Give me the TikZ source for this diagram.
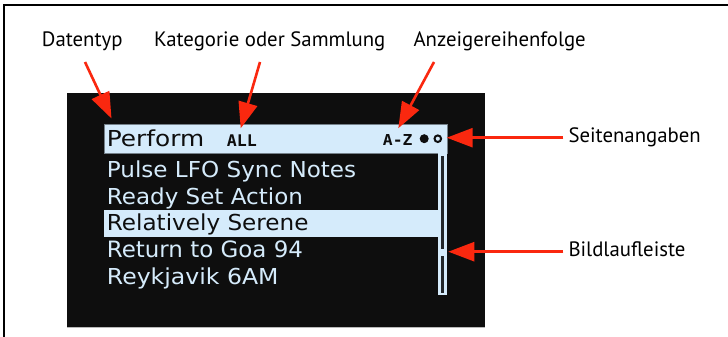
\documentclass[tikz,border=0pt]{standalone}
\usepackage{fontspec}
\setmainfont{PT Sans}
\newfontfamily\pixfont{DejaVu Sans}
\newfontfamily\pixmono{DejaVu Sans Mono}
\usetikzlibrary{arrows.meta}
\definecolor{scrbg}{RGB}{14,14,14}
\definecolor{scrfg}{RGB}{213,235,251}
\definecolor{scrtrack}{RGB}{34,38,42}
\definecolor{annred}{RGB}{250,40,15}
\newcommand{\pixtext}[3]{\resizebox{#1pt}{#2pt}{\pixfont #3}}
\newcommand{\pixbold}[3]{\resizebox{#1pt}{#2pt}{\pixmono\bfseries #3}}
\tikzset{
  annot/.style={font=\fontsize{20.8}{24}\selectfont, text=black, inner sep=0pt, anchor=base west},
  pointer/.style={draw=annred, line width=2.6pt, -{Triangle[length=26pt,width=19pt]}},
  rowtext/.style={inner sep=0pt, anchor=base west, text=scrfg},
  seltext/.style={inner sep=0pt, anchor=base west, text=scrbg},
}
\begin{document}
\begin{tikzpicture}[x=1pt,y=-1pt]
\useasboundingbox (0,0) rectangle (728,337);
\fill[white] (0,0) rectangle (728,337);
\draw[line width=2pt] (4,337) -- (4,5.5) -- (728,5.5);
% screen
\fill[scrbg] (67,93) rectangle (485,327);
\draw[gray!55, line width=1.2pt] (67,327.6) -- (485,327.6);
% header bar
\fill[scrfg, draw=scrfg!55!black, line width=0.7pt] (104,124) rectangle (447,153);
% scrollbar
\fill[scrfg] (438.3,153) rectangle (447,295.3);
\fill[scrtrack] (440.7,156) rectangle (444.4,249.3);
\fill[scrtrack] (440.7,256) rectangle (444.4,292.7);
% highlighted row
\fill[scrfg] (104,210.3) rectangle (438.3,237.3);
% header texts
\node[seltext] (perform) at (106.7,146) {\pixtext{97.3}{16.7}{Perform}};
\node[seltext] (all) at (226.7,146) {\pixbold{30}{11.7}{ALL}};
\node[seltext] (az) at (382.7,145) {\pixbold{29.6}{11}{A-Z}};
\fill[scrbg] (424.2,138.7) circle[radius=4.5];
\draw[scrbg, line width=2pt] (437.8,138.7) circle[radius=3.3];
\coordinate (pages) at (446.7,137.7);
% rows
\node[rowtext] (r1) at (106.7,177.3) {\pixtext{249.3}{16.7}{Pulse LFO Sync Notes}};
\node[rowtext] (r2) at (106.7,204) {\pixtext{196}{16.7}{Ready Set Action}};
\node[seltext] (r3) at (106.7,230.7) {\pixtext{201.6}{16.7}{Relatively Serene}};
\node[rowtext] (r4) at (106.7,257.3) {\pixtext{196}{16.7}{Return to Goa 94}};
\node[rowtext] (r5) at (106.7,284) {\pixtext{171.6}{16.7}{Reykjavik 6AM}};
\coordinate (thumb) at (448.3,251.7);
% annotation labels
\node[annot] (ldaten) at (41.7,46.7) {Datentyp};
\node[annot] (lkat) at (154,46.7) {Kategorie oder Sammlung};
\node[annot] (lanz) at (413.3,46.7) {Anzeigereihenfolge};
\node[annot] (lseite) at (568.3,142.3) {Seitenangaben};
\node[annot] (lbild) at (568.3,256) {Bildlaufleiste};
% arrow ends
\coordinate (tdaten) at (85,62);
\coordinate (hdaten) at (111.5,118.5);
\coordinate (tkat) at (260,62);
\coordinate (hkat) at (240.7,128.3);
\coordinate (tanz) at (434,62);
\coordinate (hanz) at (398.3,128.3);
\coordinate (tseite) at (563.3,137.7);
\coordinate (tbild) at (563.3,251.7);
\draw[pointer] (tdaten) -- (hdaten);
\draw[pointer] (tkat) -- (hkat);
\draw[pointer] (tanz) -- (hanz);
\draw[pointer] (tseite) -- (pages);
\draw[pointer] (tbild) -- (thumb);
\end{tikzpicture}
\end{document}
